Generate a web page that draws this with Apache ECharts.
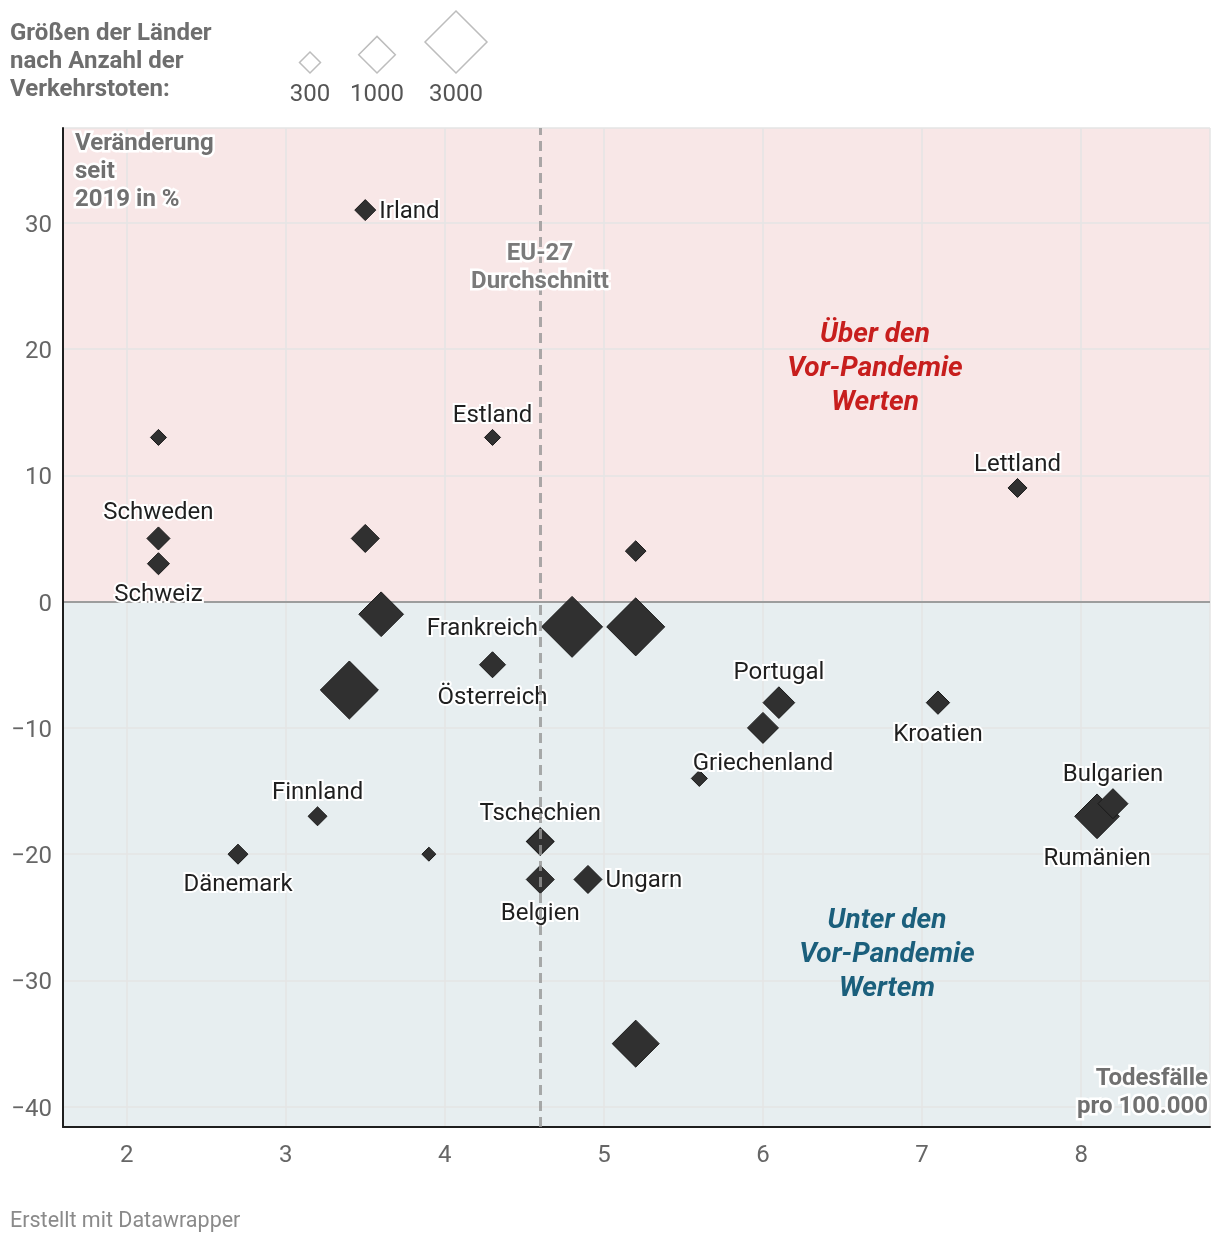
<!DOCTYPE html>
<html>
<head>
<meta charset="utf-8">
<script src="https://cdn.jsdelivr.net/npm/echarts@6/dist/echarts.min.js"></script>
<style>
html,body{margin:0;padding:0;background:#fff;}
#chart{width:1220px;height:1244px;}
</style>
</head>
<body>
<div id="chart"></div>
<script>
// ---- Data ----
// Country label ('' = unlabelled point)
const countries = ['Irland','','Estland','Lettland','Schweden','Schweiz','','','','Frankreich','','Österreich','','Portugal','Griechenland','','Kroatien','Rumänien','Bulgarien','Finnland','Dänemark','','Tschechien','Belgien','Ungarn',''];
// Todesfälle pro 100.000 Einwohner (x)
const ratePer100k = [3.5,2.2,4.3,7.6,2.2,2.2,3.5,5.2,3.6,4.8,5.2,4.3,3.4,6.1,6.0,5.6,7.1,8.1,8.2,3.2,2.7,3.9,4.6,4.6,4.9,5.2];
// Veränderung seit 2019 in % (y)
const changePct = [31,13,13,9,5,3,5,4,-1,-2,-2,-5,-7,-8,-10,-14,-8,-17,-16,-17,-20,-20,-19,-22,-22,-35];
// Anzahl der Verkehrstoten (marker size), estimated from marker sizes vs legend
const roadDeaths = [300,165,165,240,370,335,565,290,1520,2900,2620,480,2620,735,700,165,380,1520,655,240,270,120,550,565,565,1690];
// EU-27 average
const euAverage = 4.6;
// Size legend
const legendValues = [300,1000,3000];
const legendLabels = ['300','1000','3000'];
// Axis ticks
const xTicks = [2,3,4,5,6,7,8];
const yTicks = [-40,-30,-20,-10,0,10,20,30];

// ---- Styling helpers ----
const FONT = 'Roboto';
function sizeFor(d){ return 2 + 1.095*Math.sqrt(d); }
const labelPlacement = {
  'Irland':'right','Estland':'top','Lettland':'top','Schweden':'top','Schweiz':'bottom',
  'Frankreich':'left','Österreich':'bottom','Portugal':'top','Griechenland':'bottom',
  'Kroatien':'bottom','Bulgarien':'top','Rumänien':'bottom','Finnland':'top',
  'Dänemark':'bottom','Tschechien':'top','Belgien':'bottom','Ungarn':'right'
};
const X_MIN = 1.6, X_MAX = 8.81, Y_MIN = -41.6, Y_MAX = 37.5;

const points = countries.map((name,i)=>{
  const pos = labelPlacement[name];
  return {
    value:[ratePer100k[i], changePct[i], roadDeaths[i]],
    name:name,
    label:{show:!!pos, position:pos||'top', formatter:name, distance: pos==='bottom' ? 6 : 3}
  };
});

// legend diamonds (graphic) sized by same function
const legendX = [310,377,456];
const legendBottom = 73;
const legendGraphics = [];
legendValues.forEach((v,i)=>{
  const h = sizeFor(v)/2;
  const cx = legendX[i], cy = legendBottom - h;
  legendGraphics.push({
    type:'polygon', z:100,
    shape:{points:[[cx,cy-h],[cx+h,cy],[cx,cy+h],[cx-h,cy]]},
    style:{fill:'none', stroke:'#bdbdbd', lineWidth:1.5}
  });
  legendGraphics.push({
    type:'text', z:100, x:cx, y:95,
    style:{text:legendLabels[i], font:'24px '+FONT, fill:'#555', align:'center', verticalAlign:'middle'}
  });
});

function haloText(text, x, y, align, font, fill, lh){
  return {type:'text', z:100, x:x, y:y,
    style:{text:text, font:font, fill:fill, align:align, verticalAlign:'top', lineHeight:lh,
      stroke:'#fff', lineWidth:5, strokeFirst:true}};
}

const chart = echarts.init(document.getElementById('chart'));
chart.setOption({
  animation:false,
  backgroundColor:'#fff',
  textStyle:{fontFamily:FONT},
  grid:{left:63,right:10,top:128,bottom:117,containLabel:false},
  xAxis:{
    type:'value', min:X_MIN, max:X_MAX, splitNumber:7, z:1,
    axisLine:{show:true,onZero:false,lineStyle:{color:'#1e1e1e',width:2}},
    axisTick:{show:false},
    axisLabel:{margin:17,fontSize:24,color:'#666',fontFamily:FONT,
      formatter:v=> xTicks.includes(Math.round(v*1000)/1000) ? String(v) : ''},
    splitLine:{show:true,lineStyle:{color:'#e5e5e5',width:1.5}}
  },
  yAxis:{
    type:'value', min:Y_MIN, max:Y_MAX, splitNumber:8, z:1,
    axisLine:{show:true,onZero:false,lineStyle:{color:'#1e1e1e',width:2}},
    axisTick:{show:false},
    axisLabel:{margin:11,color:'#666',fontFamily:FONT,
      formatter:v=> yTicks.includes(Math.round(v*1000)/1000) ? '{t|' + String(v).replace('-','\u2212') + '}' : '',
      rich:{t:{fontSize:24,color:'#666',fontFamily:FONT,padding:[6,0,0,0]}}},
    splitLine:{show:true,lineStyle:{color:'#e5e5e5',width:1.5}}
  },
  series:[
    { // backgrounds + zero line
      type:'scatter', data:[], z:0, silent:true,
      markArea:{silent:true, z:0,
        data:[
          [{xAxis:X_MIN,yAxis:0,itemStyle:{color:'#f8e7e7'}},{xAxis:X_MAX,yAxis:Y_MAX}],
          [{xAxis:X_MIN,yAxis:Y_MIN,itemStyle:{color:'#e7eef0'}},{xAxis:X_MAX,yAxis:0}]
        ]},
      markLine:{silent:true, symbol:'none', z:1, label:{show:false},
        lineStyle:{color:'#858585',width:1.5,type:'solid'},
        data:[{yAxis:0}]}
    },
    {
      type:'scatter', z:3, symbol:'diamond',
      symbolSize:(val)=>sizeFor(val[2]),
      data:points,
      itemStyle:{color:'#303030',borderColor:'#1a1a1a',borderWidth:1,opacity:1},
      label:{fontSize:24,color:'#1f1f1f',fontFamily:FONT,offset:[0,2],
        textBorderColor:'#fff',textBorderWidth:4},
      emphasis:{disabled:true}
    },
    { // EU average dashed line over markers
      type:'scatter', data:[], z:10, silent:true,
      markLine:{silent:true, symbol:'none', z:10, label:{show:false},
        lineStyle:{color:'rgba(150,150,150,0.8)',width:3,type:[10,6]},
        data:[{xAxis:euAverage}]}
    }
  ],
  graphic:[
    {type:'text', z:100, x:10, y:20,
      style:{text:'Größen der Länder\nnach Anzahl der\nVerkehrstoten:', font:'bold 24px '+FONT, fill:'#6e6e6e', lineHeight:28, verticalAlign:'top'}},
    ...legendGraphics,
    haloText('Veränderung\nseit\n2019 in %', 75, 130, 'left', 'bold 24px '+FONT, '#707070', 28),
    haloText('EU-27\nDurchschnitt', 540, 240, 'center', 'bold 24px '+FONT, '#7a7a7a', 28),
    haloText('Todesfälle\npro 100.000', 1208, 1065, 'right', 'bold 24px '+FONT, '#707070', 28),
    {type:'text', z:100, x:875, y:318,
      style:{text:'Über den\nVor-Pandemie\nWerten', font:'italic bold 28px '+FONT, fill:'#c71e1d', align:'center', verticalAlign:'top', lineHeight:34}},
    {type:'text', z:100, x:887, y:904,
      style:{text:'Unter den\nVor-Pandemie\nWertem', font:'italic bold 28px '+FONT, fill:'#1b5f7c', align:'center', verticalAlign:'top', lineHeight:34}},
    {type:'text', z:100, x:10, y:1222,
      style:{text:'Erstellt mit Datawrapper', font:'21.5px '+FONT, fill:'#8a8a8a', verticalAlign:'middle'}}
  ]
});
</script>
</body>
</html>
